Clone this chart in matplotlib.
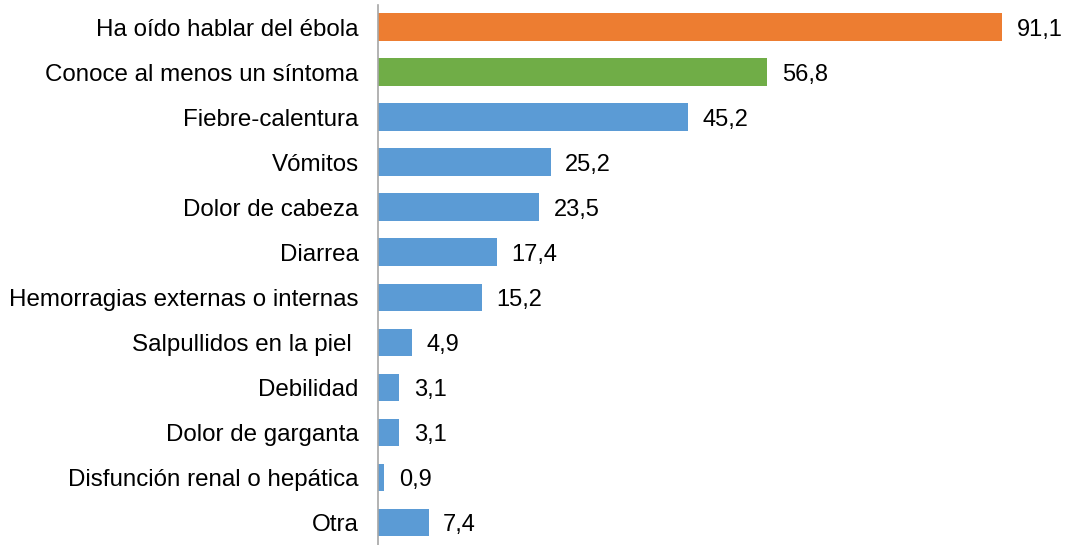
import matplotlib.pyplot as plt

plt.rcParams['font.family'] = ['Liberation Sans', 'DejaVu Sans']

categorias = ['Ha oído hablar del ébola', 'Conoce al menos un síntoma', 'Fiebre-calentura',
              'Vómitos', 'Dolor de cabeza', 'Diarrea', 'Hemorragias externas o internas',
              'Salpullidos en la piel ', 'Debilidad', 'Dolor de garganta',
              'Disfunción renal o hepática', 'Otra']
valores = [91.1, 56.8, 45.2, 25.2, 23.5, 17.4, 15.2, 4.9, 3.1, 3.1, 0.9, 7.4]
colores = ['#ED7D31', '#70AD47'] + ['#5B9BD5'] * 10

fig = plt.figure(figsize=(10.71, 5.45), dpi=100)
ax = fig.add_axes([0.353, 0.0, 0.64, 0.991])

pos = list(range(len(categorias)))
ax.barh(pos, valores, height=0.62, color=colores)
for i in pos:
    ax.text(valores[i] + 2.1, i, f'{valores[i]:.1f}'.replace('.', ','),
            va='center_baseline', ha='left', fontsize=17, color='black')

ax.set_yticks(pos)
ax.set_yticklabels(categorias, fontsize=17.4, va='center_baseline')
ax.set_ylim(len(categorias) - 0.5, -0.5)
ax.set_xlim(0, 100)
ax.set_xticks([])
ax.tick_params(axis='y', length=0, pad=14)
for s in ['top', 'right', 'bottom']:
    ax.spines[s].set_visible(False)
ax.spines['left'].set_color('#A6A6A6')
ax.spines['left'].set_linewidth(1.2)

fig.savefig('out.png', dpi=100)
